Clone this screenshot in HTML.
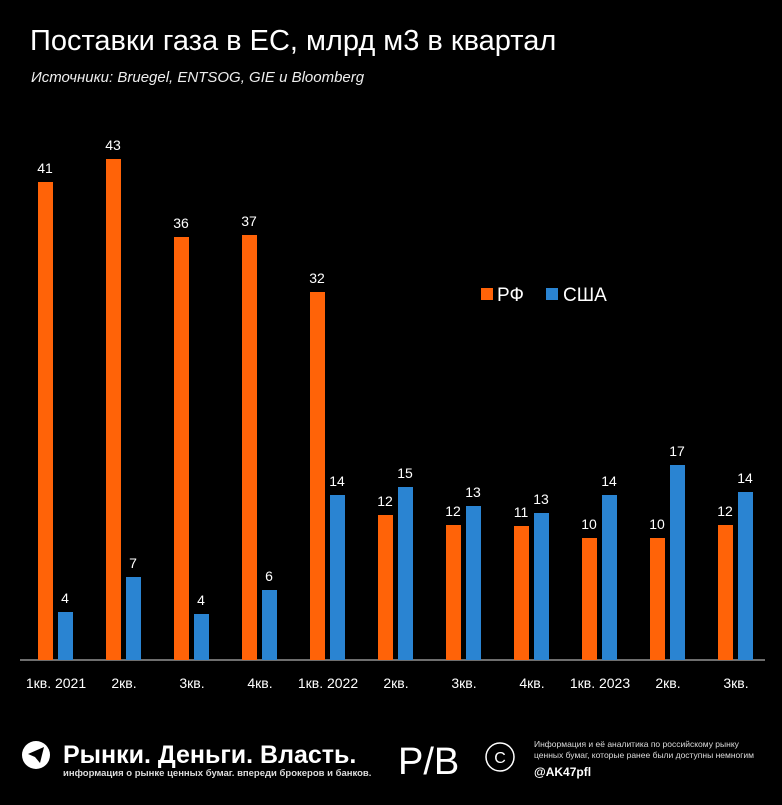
<!DOCTYPE html><html><head><meta charset="utf-8"><style>
body{margin:0;background:#000;width:782px;height:800px;overflow:hidden;font-family:"Liberation Sans",sans-serif;color:#fff}
</style></head><body>
<svg width="782" height="800" xmlns="http://www.w3.org/2000/svg" font-family="Liberation Sans, sans-serif" fill="#fff">
<rect width="782" height="800" fill="#000"/>
<text x="30" y="50" font-size="29" fill="#fff">Поставки газа в ЕС, млрд м3 в квартал</text>
<text x="31" y="82" font-size="15" font-style="italic" fill="#eee">Источники: Bruegel, ENTSOG, GIE и Bloomberg</text>
<line x1="20" y1="660" x2="765" y2="660" stroke="#ddd" stroke-width="1"/>
<rect x="481" y="288" width="12" height="12" fill="#ff6308"/><text x="497" y="301" font-size="19" fill="#fff">РФ</text>
<rect x="546" y="288" width="12" height="12" fill="#2a84d2"/><text x="563" y="301" font-size="19" fill="#fff">США</text>
<g font-size="14" text-anchor="middle" fill="#fff">
<text x="56" y="688">1кв. 2021</text><text x="124" y="688">2кв.</text><text x="192" y="688">3кв.</text><text x="260" y="688">4кв.</text><text x="328" y="688">1кв. 2022</text><text x="396" y="688">2кв.</text><text x="464" y="688">3кв.</text><text x="532" y="688">4кв.</text><text x="600" y="688">1кв. 2023</text><text x="668" y="688">2кв.</text><text x="736" y="688">3кв.</text>
</g>
<circle cx="36" cy="755" r="14" fill="#fff"/><path d="M28 754 L44 747 L40 763 L35 757 Z" fill="#000"/>
<text x="63" y="763" font-size="25" font-weight="bold" fill="#fff">Рынки. Деньги. Власть.</text>
<text x="63" y="776" font-size="9.5" font-weight="bold" fill="#ddd">информация о рынке ценных бумаг. впереди брокеров и банков.</text>
<text x="398" y="774" font-size="38" fill="#fff">P/B</text>
<circle cx="500" cy="757" r="14" fill="none" stroke="#fff" stroke-width="1.5"/><text x="500" y="763" font-size="16" text-anchor="middle" fill="#fff">C</text>
<text x="534" y="747" font-size="8.5" fill="#ddd">Информация и её аналитика по российскому рынку</text>
<text x="534" y="758" font-size="8.5" fill="#ddd">ценных бумаг, которые ранее были доступны немногим</text>
<text x="534" y="776" font-size="12" font-weight="bold" fill="#fff">@AK47pfl</text>
<g fill="#ff6308">
<rect x="38" y="182" width="15" height="478"/><rect x="106" y="159" width="15" height="501"/><rect x="174" y="237" width="15" height="423"/><rect x="242" y="235" width="15" height="425"/><rect x="310" y="292" width="15" height="368"/><rect x="378" y="515" width="15" height="145"/><rect x="446" y="525" width="15" height="135"/><rect x="514" y="526" width="15" height="134"/><rect x="582" y="538" width="15" height="122"/><rect x="650" y="538" width="15" height="122"/><rect x="718" y="525" width="15" height="135"/>
</g>
<g fill="#2a84d2">
<rect x="58" y="612" width="15" height="48"/><rect x="126" y="577" width="15" height="83"/><rect x="194" y="614" width="15" height="46"/><rect x="262" y="590" width="15" height="70"/><rect x="330" y="495" width="15" height="165"/><rect x="398" y="487" width="15" height="173"/><rect x="466" y="506" width="15" height="154"/><rect x="534" y="513" width="15" height="147"/><rect x="602" y="495" width="15" height="165"/><rect x="670" y="465" width="15" height="195"/><rect x="738" y="492" width="15" height="168"/>
</g>
<g font-size="14" text-anchor="middle" fill="#fff">
<text x="45" y="173">41</text><text x="113" y="150">43</text><text x="181" y="228">36</text><text x="249" y="226">37</text><text x="317" y="283">32</text><text x="385" y="506">12</text><text x="453" y="516">12</text><text x="521" y="517">11</text><text x="589" y="529">10</text><text x="657" y="529">10</text><text x="725" y="516">12</text>
<text x="65" y="603">4</text><text x="133" y="568">7</text><text x="201" y="605">4</text><text x="269" y="581">6</text><text x="337" y="486">14</text><text x="405" y="478">15</text><text x="473" y="497">13</text><text x="541" y="504">13</text><text x="609" y="486">14</text><text x="677" y="456">17</text><text x="745" y="483">14</text>
</g>
</svg>
</body></html>
